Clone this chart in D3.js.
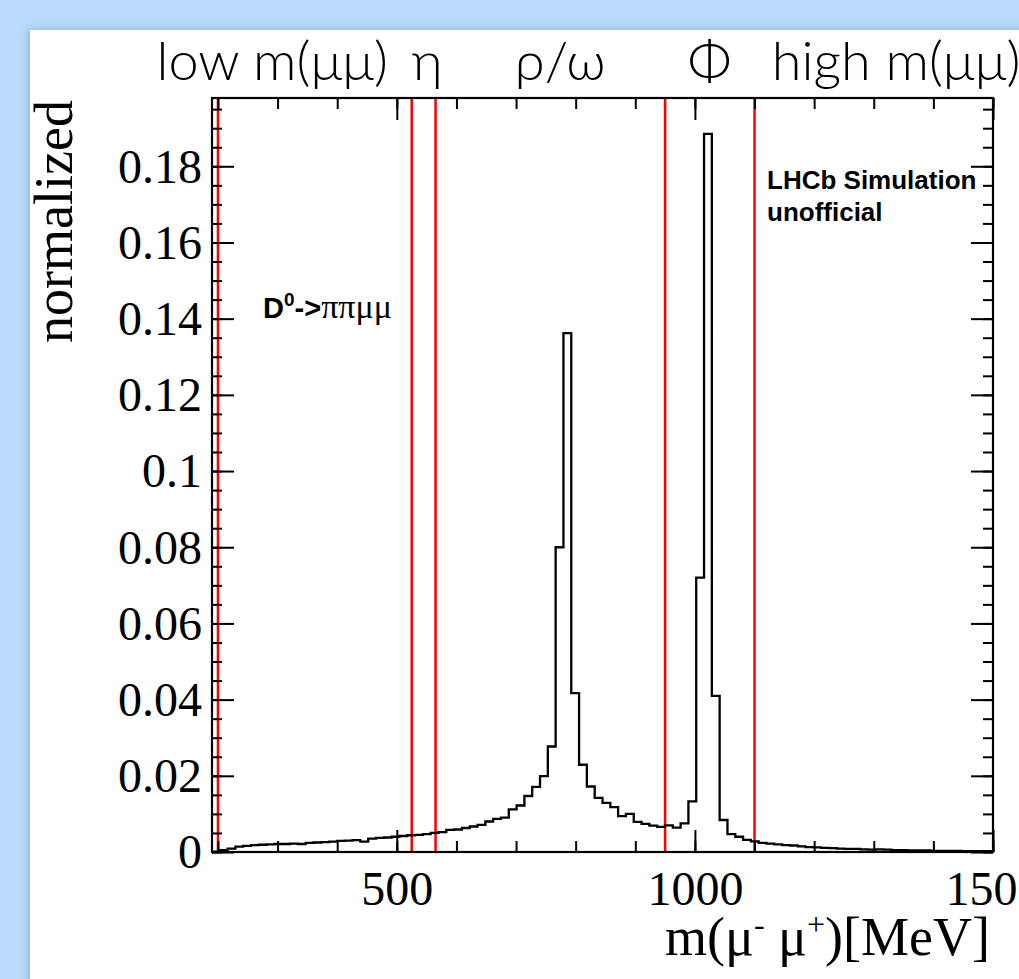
<!DOCTYPE html>
<html>
<head>
<meta charset="utf-8">
<script src="https://cdn.jsdelivr.net/npm/d3@7"></script>
<style>
  html, body { margin: 0; padding: 0; background: #badbfb; overflow: hidden; }
  svg { display: block; }
</style>
</head>
<body>
<svg id="chart" width="1019" height="979"></svg>
<script>
// Histogram binning of the dimuon mass (MeV)
const binLow = 190;
const binHigh = 1500;
const nBins = 100;

// Normalized bin contents, D0 -> pi pi mu mu simulation
const binContents = [
  0.0001, 0.0005, 0.0009, 0.0014, 0.0016, 0.0018, 0.0019, 0.0020, 0.0021, 0.0021,
  0.0022, 0.0021, 0.0024, 0.0025, 0.0026, 0.0027, 0.0029, 0.0030, 0.0031, 0.0027,
  0.0035, 0.0037, 0.0038, 0.0040, 0.0042, 0.0044, 0.0045, 0.0047, 0.0050, 0.0052,
  0.0058, 0.0059, 0.0063, 0.0067, 0.0071, 0.0080, 0.0087, 0.0090, 0.0112, 0.0122,
  0.0147, 0.0171, 0.0199, 0.0277, 0.0800, 0.1362, 0.0417, 0.0229, 0.0172, 0.0142,
  0.0129, 0.0118, 0.0094, 0.0100, 0.0079, 0.0074, 0.0069, 0.0066, 0.0070, 0.0064,
  0.0075, 0.0133, 0.0720, 0.1885, 0.0410, 0.0084, 0.0047, 0.0040, 0.0032, 0.0028,
  0.0024, 0.0022, 0.0020, 0.0018, 0.0017, 0.0015, 0.0013, 0.0012, 0.0011, 0.0010,
  0.0009, 0.0008, 0.0008, 0.0007, 0.0006, 0.0007, 0.0006, 0.0005, 0.0005, 0.0004,
  0.0004, 0.0004, 0.0003, 0.0003, 0.0003, 0.0003, 0.0002, 0.0002, 0.0002, 0.0002
];

// Mass-region boundaries (MeV) and region names
const regionCuts = [200, 525, 565, 950, 1100];
const regionNames = ["low m(μμ)", "η", "ρ/ω", "Φ", "high m(μμ)"];
const regionNameStart = [97, 525, 698, 988, 1129];

// Axis ticks
const xMajorTicks = [500, 1000, 1500];
const xMinorTicks = d3.range(200, 1501, 100);
const yMajorTicks = [0, 0.02, 0.04, 0.06, 0.08, 0.1, 0.12, 0.14, 0.16, 0.18];
const yTickLabels = ["0", "0.02", "0.04", "0.06", "0.08", "0.1", "0.12", "0.14", "0.16", "0.18"];

const svg = d3.select("#chart");

// Page panel with soft shadow
const defs = svg.append("defs");
const f = defs.append("filter").attr("id", "shadow")
  .attr("x", "-10%").attr("y", "-10%").attr("width", "130%").attr("height", "130%");
f.append("feDropShadow").attr("dx", -2).attr("dy", -1)
  .attr("stdDeviation", 4).attr("flood-color", "#4a6d99").attr("flood-opacity", 0.35);
svg.append("rect").attr("x", 30).attr("y", 30).attr("width", 1100).attr("height", 1100)
  .attr("fill", "#ffffff").attr("filter", "url(#shadow)");

const m = { left: 212, top: 98, right: 993, bottom: 852 };
const x = d3.scaleLinear().domain([binLow, binHigh]).range([m.left, m.right]);
const yMax = d3.max(binContents) * 1.05;
const y = d3.scaleLinear().domain([0, yMax]).range([m.bottom, m.top]);

const serif = "'Liberation Serif', 'Times New Roman', serif";
const sans = "'Liberation Sans', Arial, sans-serif";

// Region boundary lines
svg.append("g").selectAll("line").data(regionCuts).join("line")
  .attr("x1", d => x(d)).attr("x2", d => x(d))
  .attr("y1", m.top).attr("y2", m.bottom)
  .attr("stroke", "#ff0000").attr("stroke-width", 2.5);

// Histogram outline
const binWidth = (binHigh - binLow) / nBins;
const pts = binContents.map((v, i) => [binLow + i * binWidth, v]);
pts.push([binHigh, binContents[nBins - 1]]);
const line = d3.line().x(d => x(d[0])).y(d => y(d[1])).curve(d3.curveStepAfter);
svg.append("path").datum(pts).attr("d", line)
  .attr("fill", "none").attr("stroke", "#000").attr("stroke-width", 2.3)
  .attr("stroke-linejoin", "miter");

// Axes (ticks point into the frame)
function styleAxis(g) {
  g.select(".domain").remove();
  g.selectAll(".tick line").attr("stroke", "#000").attr("stroke-width", 2);
  g.selectAll("text").attr("font-family", serif).attr("font-size", 48).attr("fill", "#000");
}
const yMinorTicks = d3.range(0, yMax, 0.005);

svg.append("g").attr("transform", `translate(0,${m.bottom})`)
  .call(d3.axisBottom(x).tickValues(xMinorTicks).tickSize(-11).tickFormat(""))
  .call(styleAxis);
svg.append("g").attr("transform", `translate(0,${m.bottom})`)
  .call(d3.axisBottom(x).tickValues(xMajorTicks).tickSize(-22).tickPadding(19).tickFormat(d3.format("d")))
  .call(styleAxis);
svg.append("g").attr("transform", `translate(0,${m.top})`)
  .call(d3.axisTop(x).tickValues(xMinorTicks).tickSize(-11).tickFormat(""))
  .call(styleAxis);
svg.append("g").attr("transform", `translate(0,${m.top})`)
  .call(d3.axisTop(x).tickValues(xMajorTicks).tickSize(-22).tickFormat(""))
  .call(styleAxis);

svg.append("g").attr("transform", `translate(${m.left},0)`)
  .call(d3.axisLeft(y).tickValues(yMinorTicks).tickSize(-10).tickFormat(""))
  .call(styleAxis);
svg.append("g").attr("transform", `translate(${m.left},0)`)
  .call(d3.axisLeft(y).tickValues(yMajorTicks).tickSize(-22).tickPadding(10)
    .tickFormat((d, i) => yTickLabels[i]))
  .call(styleAxis)
  .selectAll("text").attr("dy", "0.33em");
svg.append("g").attr("transform", `translate(${m.right},0)`)
  .call(d3.axisRight(y).tickValues(yMinorTicks).tickSize(-10).tickFormat(""))
  .call(styleAxis);
svg.append("g").attr("transform", `translate(${m.right},0)`)
  .call(d3.axisRight(y).tickValues(yMajorTicks).tickSize(-22).tickFormat(""))
  .call(styleAxis);

// Frame
svg.append("rect").attr("x", m.left).attr("y", m.top)
  .attr("width", m.right - m.left).attr("height", m.bottom - m.top)
  .attr("fill", "none").attr("stroke", "#000").attr("stroke-width", 2.2);

// Axis titles
const xt = svg.append("text").attr("x", 990).attr("y", 955)
  .attr("text-anchor", "end").attr("font-family", serif).attr("font-size", 54).attr("fill", "#000");
xt.append("tspan").text("m(μ");
xt.append("tspan").attr("font-size", 32).attr("dy", -20).text("-");
xt.append("tspan").attr("dy", 20).text(" μ");
xt.append("tspan").attr("font-size", 32).attr("dy", -20).text("+");
xt.append("tspan").attr("dy", 20).text(")[MeV]");

svg.append("text").attr("transform", "translate(72,100) rotate(-90)")
  .attr("text-anchor", "end").attr("font-family", serif).attr("font-size", 54).attr("fill", "#000")
  .text("normalized");

// Region names above the frame
svg.append("g").selectAll("text").data(regionNames).join("text")
  .attr("x", (d, i) => x(regionNameStart[i])).attr("y", 80)
  .attr("font-family", "Lato, 'Open Sans', sans-serif").attr("font-weight", 300)
  .attr("font-size", 54).attr("fill", "#000")
  .text(d => d);

// Decay label
const dl = svg.append("text").attr("x", 263).attr("y", 318)
  .attr("font-family", sans).attr("font-weight", "bold").attr("font-size", 29).attr("fill", "#000");
dl.append("tspan").text("D");
dl.append("tspan").attr("font-size", 19).attr("dy", -12).text("0");
dl.append("tspan").attr("dy", 12).text("->");
dl.append("tspan").attr("font-family", serif).attr("font-weight", "normal").attr("font-size", 34).text("ππμμ");

// Experiment label
svg.append("text").attr("x", 767).attr("y", 189)
  .attr("font-family", sans).attr("font-weight", "bold").attr("font-size", 26).attr("fill", "#000")
  .text("LHCb Simulation");
svg.append("text").attr("x", 767).attr("y", 221)
  .attr("font-family", sans).attr("font-weight", "bold").attr("font-size", 26).attr("fill", "#000")
  .text("unofficial");
</script>
</body>
</html>
